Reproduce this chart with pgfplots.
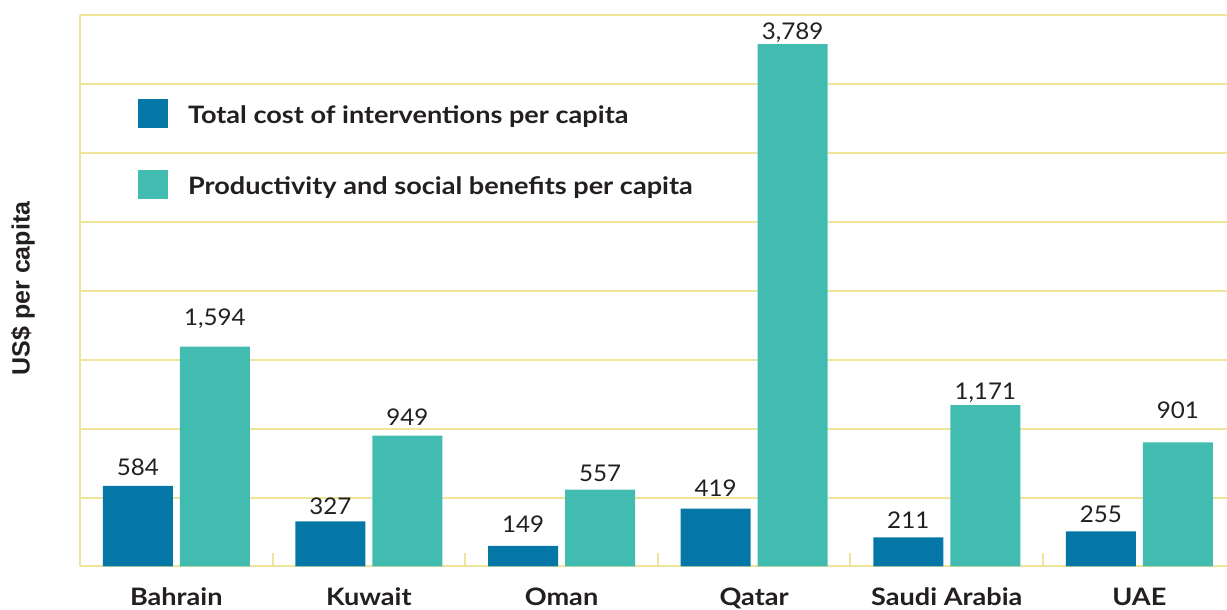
\documentclass[border=0pt]{standalone}
\usepackage{pgfplots}
\pgfplotsset{compat=1.18}
\usepackage{fontspec}
\setmainfont{Lato}
\newfontfamily\wideb{Lato}[FakeStretch=1.13]
\newfontfamily\widen{Lato}[FakeStretch=1.05]
\newfontfamily\arialfont{Liberation Sans}
\definecolor{cblue}{HTML}{0477A7}
\definecolor{cteal}{HTML}{42BBB0}
\definecolor{cgrid}{HTML}{F0E49A}
\definecolor{ctext}{HTML}{231F20}
\pgfplotstableread{
x y off
0 584 10
1 327 7
2 149 13
3 419 12
4 211 9
5 255 9
}\costdata
\pgfplotstableread{
x y off
0 1594 21
1 949 10
2 557 8
3 3789 5
4 1171 6
5 901 24
}\benefitdata
\begin{document}
\begin{tikzpicture}
\useasboundingbox (-80pt,-43.5pt) rectangle (1147pt,566.5pt);
\begin{axis}[
  at={(0pt,0pt)}, anchor=south west,
  scale only axis, width=1147pt, height=551.5pt,
  ybar=7pt, bar width=70pt,
  xmin=-0.5, xmax=5.455, ymin=0, ymax=4000,
  axis x line*=bottom, axis y line*=left,
  axis line style={cgrid, line width=2pt, -},
  ytick={500,1000,...,4000}, yticklabels={},
  ymajorgrids, major grid style={cgrid, line width=2pt},
  major tick length=0pt,
  tick style={cgrid, line width=2pt},
  xtick={0,...,5},
  xticklabels={Bahrain,Kuwait,Oman,Qatar,Saudi Arabia,UAE},
  xticklabel style={font=\wideb\fontsize{24}{24}\selectfont\bfseries, text=ctext, anchor=base, yshift=-39.5pt},
  extra x ticks={0.5,1.5,2.5,3.5,4.5}, extra x tick labels={},
  extra x tick style={major tick length=13pt, tick align=inside},
  point meta=y,
  visualization depends on={\thisrow{off}\as\labeloff},
  nodes near coords,
  every node near coord/.append style={font=\widen\fontsize{23}{23}\selectfont, text=ctext, anchor=base, yshift=\labeloff pt},
  /pgf/number format/fixed, /pgf/number format/precision=0,
  /pgf/number format/1000 sep={,}, /pgf/number format/assume math mode=true,
  legend style={at={(0,1)}, anchor=north west, xshift=58pt, yshift=-84pt,
    draw=none, fill=none, inner sep=0pt, outer sep=0pt, row sep=42pt,
    font=\wideb\fontsize{24}{24}\selectfont\bfseries, text=ctext,
    nodes={inner sep=0pt, outer sep=0pt, anchor=base west},
    /tikz/every odd column/.append style={column sep=20pt}},
  legend image code/.code={\fill[#1] (0pt,-4pt) rectangle (30pt,25pt);},
]
\addplot[fill=cblue, draw=none] table[x=x, y=y] {\costdata};
\addplot[fill=cteal, draw=none] table[x=x, y=y] {\benefitdata};
\legend{Total cost of interventions per capita, Productivity and social benefits per capita}
\end{axis}
\node[rotate=90, font=\arialfont\fontsize{25}{25}\selectfont\bfseries, text=ctext] at (-57pt,278pt) {US\$ per capita};
\end{tikzpicture}
\end{document}
